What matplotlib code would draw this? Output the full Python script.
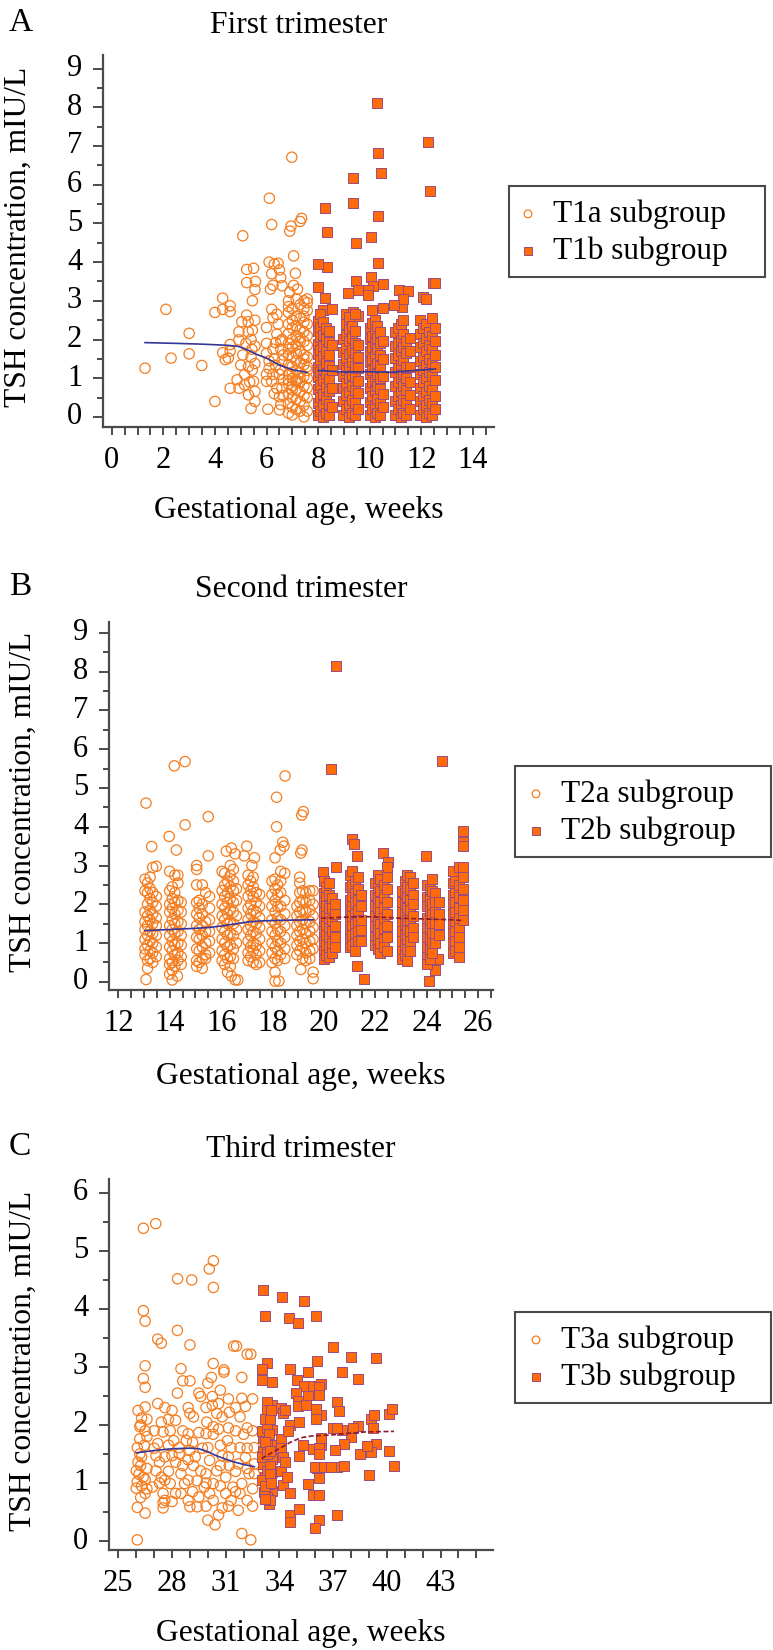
import matplotlib
matplotlib.use("Agg")
import matplotlib.pyplot as plt
from matplotlib.patches import Rectangle
from matplotlib.ticker import MultipleLocator, FixedLocator

plt.rcParams['font.family'] = ['Liberation Serif', 'DejaVu Serif']

# ---- data: (week, [TSH values]) ----
t1a = [
    (1.29, [1.26]), (2.10, [2.78]), (2.30, [1.52]), (3.00, [2.16, 1.63]), (3.49, [1.33]),
    (4.00, [0.40, 2.70]), (4.30, [3.07, 2.78, 1.66]), (4.40, [1.48]),
    (4.59, [2.87, 2.72, 1.87, 1.70, 0.74]), (4.52, [1.52]),
    (4.86, [0.96]), (4.93, [2.20, 1.99, 0.74]), (5.00, [1.34]), (5.04, [2.46]),
    (5.08, [4.68, 1.60]), (5.15, [0.83, 1.10]), (5.20, [1.90]), (5.23, [2.63, 3.81, 3.47]),
    (5.29, [2.46, 2.20]), (5.30, [0.57, 1.30]), (5.35, [0.90]), (5.40, [0.22, 2.00, 1.55]),
    (5.43, [1.75]), (5.45, [3.00, 2.24, 1.21]), (5.50, [3.84, 0.92]),
    (5.55, [3.29, 1.83, 1.38, 0.66, 0.40, 2.50]), (5.57, [3.50]),
    (6.00, [2.31, 1.90, 1.64, 0.92, 1.10]), (6.05, [0.20]), (6.10, [4.00, 1.45, 1.25]),
    (6.11, [5.65]), (6.15, [3.30]), (6.20, [4.97, 3.70, 2.78, 0.92]),
    (6.25, [3.40, 2.56, 1.75, 1.10]), (6.30, [1.50, 0.60, 3.95]), (6.35, [1.92, 1.33]),
    (6.40, [2.14, 0.74, 2.65]), (6.45, [3.97, 2.40]), (6.50, [3.80, 0.52, 0.18, 1.10]),
    (6.55, [1.96, 1.75, 1.23, 0.32, 3.60]), (6.60, [3.39, 1.45, 0.75, 2.00]),
    (6.65, [0.96, 1.60, 0.55]),
    (6.98, [6.71]), (6.95, [4.93]), (6.90, [4.80, 3.22]), (7.36, [5.13]), (7.30, [5.05]),
    (7.05, [4.16, 3.40]), (7.12, [3.71]), (7.20, [3.30]),
    (6.85, [3.00, 2.70, 2.40, 2.15, 1.90, 1.60, 1.35, 1.10, 0.85, 0.60, 0.35, 0.10, 2.85, 1.75, 0.95]),
    (7.00, [2.80, 2.50, 2.30, 2.00, 1.80, 1.55, 1.30, 1.00, 0.80, 0.50, 0.25, 0.05, 1.15, 0.70]),
    (7.15, [3.05, 2.60, 2.35, 2.10, 1.85, 1.45, 1.20, 0.95, 0.70, 0.45, 0.20, 1.65, 0.90]),
    (7.30, [2.90, 2.55, 2.25, 1.95, 1.70, 1.40, 1.15, 0.90, 0.65, 0.40, 0.15, 2.05, 1.00]),
    (7.45, [3.00, 2.80, 2.45, 2.20, 1.95, 1.60, 1.35, 1.05, 0.80, 0.55, 0.30, 0.00, 2.60, 1.50]),
    (7.58, [3.05, 2.75, 2.40, 2.10, 1.85, 1.55, 1.30, 1.00, 0.75, 0.50, 0.15, 2.95, 1.20]),
]
t1b = [
    (10.27, [8.10]), (12.25, [7.09]), (10.33, [6.81, 5.19, 3.97]), (10.45, [6.30]),
    (9.36, [6.17, 5.52]), (12.34, [5.84]), (8.27, [5.39, 3.07]), (8.36, [4.77, 3.87]),
    (9.47, [4.49, 3.52]), (10.05, [4.66, 3.61]), (7.98, [3.95, 3.35]), (10.14, [3.39]),
    (10.50, [3.44, 2.82]), (9.17, [3.21]), (9.53, [3.28, 2.60]), (9.95, [3.28, 3.15]),
    (8.18, [2.76]), (8.52, [2.80]), (11.24, [2.85]), (11.15, [3.28]), (11.50, [3.26]),
    (11.30, [3.05]), (10.96, [2.90]), (12.05, [3.10]), (12.20, [3.05]), (12.46, [3.47]),
    (12.53, [3.47]), (9.10, [2.65]), (9.35, [2.72]),
    (7.98, [0.05, 0.35, 0.72, 1.02, 1.28, 1.62, 1.88, 2.22, 2.48]),
    (8.09, [0.15, 0.52, 0.83, 1.15, 1.47, 1.73, 2.06, 2.33, 2.66]),
    (8.20, [0.00, 0.31, 0.60, 0.95, 1.24, 1.57, 1.84, 2.12, 2.44]),
    (8.31, [0.10, 0.46, 0.78, 1.11, 1.39, 1.71, 2.02, 2.30]),
    (8.42, [0.05, 0.34, 0.66, 0.98, 1.32, 1.60, 1.94, 2.21]),
    (8.52, [0.26, 0.74, 1.21, 1.85]),
    (8.98, [0.05, 0.41, 0.74, 1.06, 1.36, 1.69, 2.01]),
    (9.09, [0.20, 0.56, 0.88, 1.21, 1.52, 1.79, 2.12, 2.41]),
    (9.20, [0.00, 0.31, 0.64, 1.00, 1.29, 1.62, 1.95, 2.26, 2.58]),
    (9.31, [0.10, 0.45, 0.81, 1.09, 1.42, 1.74, 2.05, 2.36]),
    (9.42, [0.05, 0.36, 0.70, 1.02, 1.31, 1.66, 1.90, 2.21, 2.67]),
    (9.53, [0.20, 0.61, 0.94, 1.26, 1.55, 1.86]),
    (10.00, [0.05, 0.39, 0.76, 1.10, 1.41, 1.70, 2.02, 2.30]),
    (10.10, [0.20, 0.55, 0.90, 1.21, 1.50, 1.81, 2.10, 2.42, 2.75]),
    (10.20, [0.00, 0.30, 0.66, 0.95, 1.30, 1.61, 1.90, 2.19, 2.51]),
    (10.30, [0.10, 0.46, 0.80, 1.12, 1.40, 1.76, 2.05, 2.34]),
    (10.40, [0.05, 0.35, 0.71, 1.00, 1.31, 1.60, 1.91, 2.20]),
    (10.50, [0.25, 0.60, 1.05, 1.50, 1.96]),
    (10.98, [0.05, 0.40, 0.80, 1.15, 1.51, 1.84, 2.20]),
    (11.09, [0.20, 0.55, 0.90, 1.26, 1.60, 1.91, 2.30]),
    (11.20, [0.00, 0.30, 0.65, 1.01, 1.35, 1.70, 2.00, 2.40]),
    (11.31, [0.10, 0.45, 0.80, 1.10, 1.46, 1.80, 2.15, 2.50]),
    (11.42, [0.05, 0.35, 0.70, 1.00, 1.30, 1.65, 1.95]),
    (11.55, [0.20, 0.56, 0.90, 1.30, 1.70, 2.05]),
    (11.96, [0.05, 0.40, 0.75, 1.10, 1.45, 1.80, 2.15, 2.50]),
    (12.07, [0.20, 0.55, 0.90, 1.20, 1.55, 1.90, 2.30]),
    (12.18, [0.00, 0.30, 0.65, 1.00, 1.35, 1.70, 2.05, 2.40]),
    (12.29, [0.10, 0.45, 0.80, 1.15, 1.50, 1.85, 2.20]),
    (12.40, [0.05, 0.35, 0.70, 1.05, 1.40, 1.75, 2.10, 2.55]),
    (12.52, [0.20, 0.55, 0.95, 1.30, 1.60, 1.95, 2.30]),
]
t1a_fit_x = [1.29, 2.5, 3.5, 4.5, 4.93, 5.3, 5.6, 6.0, 6.5, 7.0, 7.56]
t1a_fit_y = [1.92, 1.90, 1.88, 1.85, 1.82, 1.72, 1.62, 1.52, 1.34, 1.22, 1.15]
t1b_fit_x = [8.0, 8.5, 9.1, 9.9, 10.5, 10.8, 11.5, 12.0, 12.55]
t1b_fit_y = [1.20, 1.18, 1.16, 1.17, 1.16, 1.15, 1.19, 1.21, 1.24]

t2a = [
    (13.08, [4.61, 0.06]), (13.30, [3.49]), (13.98, [3.75]), (14.26, [3.40]), (14.18, [5.57]),
    (14.60, [5.68, 4.05]), (15.50, [4.26, 3.25]), (18.16, [4.76, 4.00]), (18.49, [5.31]),
    (19.14, [4.30]), (19.20, [4.39]), (19.10, [3.32, 0.32]), (19.15, [3.40]),
    (18.40, [3.60]), (18.45, [3.50]), (18.30, [3.40]), (18.10, [3.20, 0.02]),
    (16.20, [3.37]), (16.40, [3.45, 0.15]), (16.55, [3.30, 0.05]), (16.65, [0.05]),
    (17.00, [3.50]), (16.90, [3.25]), (17.30, [3.20]), (17.20, [3.00]),
    (14.00, [0.20]), (14.10, [0.05]), (14.30, [0.15]), (18.25, [0.02]), (19.58, [0.08, 0.25]),
    (13.04, [2.65, 2.35, 1.80, 1.55, 1.35, 1.10, 0.85, 0.70]),
    (13.14, [2.55, 2.30, 2.00, 1.70, 1.45, 1.20, 0.95, 0.55, 0.35]),
    (13.24, [2.70, 2.40, 2.15, 1.85, 1.60, 1.30, 1.05, 0.80, 0.60]),
    (13.34, [2.95, 2.30, 2.05, 1.75, 1.50, 1.25, 1.00, 0.75, 0.50]),
    (13.48, [2.98, 2.20, 1.95, 1.65, 1.45, 1.20, 0.90, 0.65]),
    (14.00, [2.85, 2.35, 2.00, 1.80, 1.45, 1.20, 0.90, 0.60, 0.45]),
    (14.10, [2.45, 2.15, 1.90, 1.60, 1.35, 1.05, 0.80, 0.50, 0.30]),
    (14.20, [2.75, 2.30, 2.05, 1.75, 1.50, 1.25, 0.95, 0.70, 0.40]),
    (14.32, [2.75, 2.55, 2.10, 1.85, 1.55, 1.30, 1.00, 0.75, 0.55]),
    (14.45, [2.05, 1.80, 1.50, 1.20, 0.95, 0.65, 0.45]),
    (15.05, [3.00, 2.90, 2.50, 2.05, 1.75, 1.45, 1.15, 0.85, 0.55, 0.40]),
    (15.15, [2.10, 1.90, 1.65, 1.35, 1.10, 0.80, 0.50]),
    (15.27, [2.50, 2.00, 1.75, 1.45, 1.20, 0.90, 0.60, 0.35]),
    (15.40, [2.30, 1.55, 1.30, 1.00, 0.70, 0.60]),
    (15.55, [2.20, 1.90, 1.60, 1.30, 1.05, 0.75]),
    (16.04, [2.85, 2.35, 2.00, 1.70, 1.40, 1.10, 0.80, 0.55]),
    (16.14, [2.80, 2.50, 2.20, 1.90, 1.60, 1.30, 1.00, 0.70, 0.45]),
    (16.25, [2.60, 2.30, 2.05, 1.75, 1.50, 1.20, 0.90, 0.60, 0.25]),
    (16.36, [3.00, 2.75, 2.45, 2.15, 1.85, 1.55, 1.25, 0.95, 0.65, 0.40]),
    (16.48, [2.90, 2.60, 2.35, 2.05, 1.80, 1.50, 1.20, 0.85, 0.60]),
    (16.60, [2.40, 2.10, 1.70, 1.35, 1.00]),
    (17.05, [2.75, 2.50, 2.20, 1.90, 1.60, 1.35, 1.05, 0.75, 0.55]),
    (17.15, [2.60, 2.35, 2.00, 1.75, 1.45, 1.20, 0.90, 0.65]),
    (17.25, [2.70, 2.45, 2.20, 1.85, 1.55, 1.30, 1.00, 0.80, 0.50]),
    (17.37, [2.30, 2.05, 1.80, 1.50, 1.25, 0.95, 0.70, 0.45]),
    (17.50, [2.25, 1.95, 1.65, 1.40, 1.10, 0.80, 0.50]),
    (17.98, [2.60, 2.25, 1.95, 1.60, 1.30, 1.00, 0.75, 0.50]),
    (18.10, [2.65, 2.40, 2.10, 1.80, 1.50, 1.20, 0.90, 0.60, 0.25]),
    (18.20, [2.50, 2.25, 1.95, 1.65, 1.35, 1.05, 0.80, 0.55]),
    (18.32, [2.85, 2.60, 2.30, 1.95, 1.60, 1.30, 1.00, 0.70]),
    (18.48, [2.80, 2.10, 1.75, 1.45, 1.15, 0.85, 0.60]),
    (18.95, [1.95, 1.70, 1.45, 1.20, 0.95, 0.70]),
    (19.06, [2.70, 2.55, 2.30, 2.05, 1.80, 1.55, 1.30, 1.05, 0.80]),
    (19.17, [2.35, 2.10, 1.85, 1.60, 1.35, 1.10, 0.90, 0.60]),
    (19.30, [2.30, 2.05, 1.80, 1.50, 1.25, 1.00, 0.75, 0.55]),
    (19.45, [2.35, 2.10, 1.85, 1.55, 1.30, 1.05, 0.80, 0.60]),
    (19.58, [2.35, 2.00, 1.70, 1.40, 1.10, 0.85]),
]
t2b = [
    (20.47, [8.15, 2.97]), (24.58, [5.70]), (20.28, [5.48]), (21.08, [3.68]), (21.17, [3.56]),
    (21.28, [3.25, 0.41]), (22.29, [3.33]), (22.50, [3.10]), (22.45, [2.95]), (19.95, [2.84]),
    (23.97, [3.25]), (21.55, [0.07]), (24.09, [0.01]), (24.33, [0.31]), (24.45, [0.60]),
    (20.00, [2.60, 2.30, 2.05, 1.80, 1.55, 1.30, 1.05, 0.80, 0.60]),
    (20.10, [2.45, 2.20, 1.95, 1.70, 1.45, 1.20, 0.95, 0.70]),
    (20.20, [2.55, 2.25, 1.90, 1.65, 1.40, 1.15, 0.90, 0.65]),
    (20.30, [2.15, 1.90, 1.60, 1.30, 1.00, 0.75]),
    (20.42, [2.00, 1.75, 1.45, 1.15, 0.90]),
    (21.00, [2.75, 2.45, 2.10, 1.85, 1.60, 1.35, 1.10, 0.90]),
    (21.10, [2.85, 2.50, 2.20, 1.95, 1.70, 1.45, 1.20, 0.95]),
    (21.20, [2.60, 2.30, 2.05, 1.75, 1.50, 1.25, 1.00, 0.80]),
    (21.32, [2.70, 2.40, 2.10, 1.85, 1.55, 1.30, 1.05]),
    (21.45, [2.25, 1.95, 1.60, 1.35, 1.05]),
    (22.00, [2.55, 2.25, 1.95, 1.70, 1.45, 1.15, 0.95]),
    (22.10, [2.75, 2.45, 2.15, 1.90, 1.60, 1.35, 1.10, 0.85]),
    (22.20, [2.65, 2.35, 2.05, 1.80, 1.50, 1.25, 1.00, 0.75]),
    (22.32, [2.50, 2.20, 1.90, 1.65, 1.40, 1.10, 0.90]),
    (22.45, [2.70, 2.40, 2.05, 1.75, 1.45, 1.15, 0.80]),
    (23.05, [2.35, 2.05, 1.80, 1.55, 1.30, 1.05, 0.80, 0.60]),
    (23.15, [2.60, 2.30, 2.00, 1.75, 1.50, 1.20, 0.95, 0.70]),
    (23.25, [2.75, 2.45, 2.20, 1.90, 1.60, 1.35, 1.10, 0.85, 0.55]),
    (23.36, [2.70, 2.40, 2.10, 1.85, 1.60, 1.30, 1.05, 0.80]),
    (23.48, [2.55, 2.25, 2.00, 1.70, 1.40, 1.15]),
    (24.02, [2.50, 2.20, 1.95, 1.65, 1.40, 1.15, 0.90, 0.65, 0.45]),
    (24.12, [2.40, 2.10, 1.85, 1.60, 1.35, 1.10, 0.85, 0.60]),
    (24.22, [2.65, 2.35, 2.00, 1.75, 1.50, 1.25, 1.00, 0.75]),
    (24.34, [2.30, 2.05, 1.80, 1.50, 1.25, 1.00]),
    (24.46, [2.05, 1.75, 1.50, 1.20]),
    (25.02, [2.85, 2.55, 2.25, 2.00, 1.75, 1.50, 1.25, 1.00, 0.75]),
    (25.12, [2.60, 2.30, 2.05, 1.80, 1.55, 1.30, 1.05, 0.80]),
    (25.25, [2.95, 2.50, 2.20, 1.90, 1.65, 1.40, 1.15, 0.90, 0.65]),
    (25.42, [3.90, 3.60, 3.50, 2.95, 2.70, 2.40, 2.10, 1.85, 1.60]),
]
t2a_fit_x = [13.04, 14.0, 15.0, 15.5, 16.0, 16.5, 17.0, 17.5, 18.5, 19.6]
t2a_fit_y = [1.32, 1.35, 1.38, 1.40, 1.44, 1.49, 1.54, 1.57, 1.59, 1.60]
t2b_fit_x = [19.9, 20.5, 21.0, 21.7, 22.5, 23.0, 24.0, 25.0, 25.45]
t2b_fit_y = [1.64, 1.66, 1.67, 1.68, 1.66, 1.64, 1.62, 1.60, 1.58]

t3a = [
    (26.40, [5.39, 3.97]), (27.09, [5.47]), (28.31, [4.52]), (29.10, [4.50]), (30.08, [4.69]),
    (30.31, [4.83, 4.37]), (26.50, [3.79, 3.02, 2.65, 2.31, 1.90, 1.06, 0.82, 0.48]),
    (27.20, [3.48, 2.37, 1.68]), (27.40, [3.41, 2.05, 1.10]), (28.30, [3.63, 2.55]),
    (29.00, [3.38, 2.76, 1.56, 0.59, 2.20]), (31.60, [3.36]), (32.40, [3.22]),
    (26.06, [0.02, 0.58, 1.61, 1.02]), (26.40, [2.80, 1.10]), (26.10, [2.25, 1.36]),
    (26.30, [2.12, 1.45, 0.95]), (26.20, [1.97, 1.76, 1.50]), (26.00, [1.21, 0.91]),
    (26.15, [1.15]), (26.45, [1.65]), (26.25, [2.00, 1.30, 0.75]), (26.60, [1.80, 1.25, 0.90, 2.10]),
    (27.00, [1.90, 1.60]), (27.50, [1.88, 0.82, 0.66, 0.57]), (27.10, [1.47, 1.21]),
    (27.30, [1.36, 1.00]), (26.90, [0.93]), (27.60, [2.30, 1.45, 1.05, 0.70]),
    (27.80, [2.10, 1.65, 1.20]),
    (28.50, [2.97, 1.16, 0.82]), (28.60, [2.76, 1.90, 1.30]), (28.00, [2.25, 1.47, 0.68]),
    (28.20, [2.08, 1.36, 0.82]), (27.90, [1.90, 0.99]), (28.10, [1.73]), (28.40, [1.61, 1.50]),
    (28.80, [1.73]), (28.70, [0.99]), (28.90, [2.30, 1.85, 1.40, 1.05, 0.70]),
    (29.20, [2.14, 1.30]), (29.50, [1.87, 2.55, 0.76]), (29.60, [2.49, 1.21]),
    (29.40, [1.04, 0.59]), (29.80, [0.93]), (29.30, [1.45]), (29.70, [1.60]),
    (29.15, [1.70, 0.85]), (29.90, [2.30, 1.85, 1.00, 0.60]),
    (29.94, [2.05]), (30.30, [1.97, 1.84, 0.99, 0.70, 3.06]), (30.00, [1.61, 0.36, 2.72]),
    (30.10, [1.39, 0.82]), (30.50, [1.21, 2.20]), (29.90, [1.16]), (30.40, [0.28]),
    (30.60, [0.45, 2.37, 1.93]), (30.20, [2.82]), (30.25, [2.49, 2.34]),
    (30.70, [1.65, 1.30, 0.95, 2.60]),
    (30.90, [2.95, 2.91]), (30.80, [2.14, 1.47, 0.57]), (31.20, [2.22, 1.30]),
    (31.10, [1.73]), (31.30, [1.61, 0.70]), (31.00, [1.10, 0.82]), (31.40, [0.93]),
    (31.15, [2.45, 1.95, 1.45, 0.60]), (31.55, [2.30, 1.90, 1.20, 0.85]),
    (31.45, [3.36]), (32.20, [3.22, 0.70, 1.95, 1.60, 1.25]), (31.90, [2.82, 2.46, 0.99, 0.13]),
    (32.10, [2.32, 1.44]), (31.80, [2.14, 1.61, 0.82]), (32.00, [1.84]), (31.70, [1.33, 0.53]),
    (32.30, [1.16]), (32.40, [0.02]), (32.60, [1.61, 1.16, 1.33]), (32.50, [2.45, 1.90, 0.90, 0.60]),
]
t3b = [
    (33.10, [4.32, 1.78, 1.56, 1.33]), (34.13, [4.21]), (35.39, [4.14]), (33.20, [3.88, 1.10]),
    (34.52, [3.84]), (35.02, [3.76]), (36.04, [3.88]), (37.00, [3.35, 1.94]), (38.00, [3.18, 1.79]),
    (39.40, [3.16, 1.68]), (33.29, [3.06]), (33.00, [2.97, 2.77, 1.90, 1.45]),
    (33.60, [2.74, 2.34, 1.92, 1.66, 1.42, 1.19, 0.87]), (34.59, [2.97]), (35.60, [2.91, 2.51, 0.98]),
    (36.10, [3.11, 1.25]), (37.50, [2.91, 1.92]), (38.40, [2.80, 1.98]),
    (35.00, [2.77]), (35.40, [2.68]), (35.90, [2.68, 1.58, 0.79]), (36.30, [2.71, 2.17, 1.66, 1.78]),
    (36.20, [2.66, 2.51, 0.79, 0.36, 1.61, 1.50, 1.08]), (34.95, [2.55]), (35.05, [2.41, 2.32]),
    (35.50, [2.34]), (33.30, [2.40, 2.25, 1.95, 1.66, 1.50, 1.21, 0.76]),
    (34.10, [2.29, 1.76, 1.61, 1.21]), (34.20, [2.20, 1.44, 0.96]), (34.30, [2.25, 1.36]),
    (37.20, [2.40, 1.94, 0.45, 1.28]), (37.30, [2.24]), (36.05, [2.28, 2.10]),
    (39.10, [2.11, 1.53]), (39.30, [2.17]), (40.10, [2.19, 1.56]), (40.30, [2.27]),
    (33.40, [0.99, 0.64, 1.85]), (33.50, [0.70, 1.30]), (33.05, [1.05]), (33.15, [0.85]),
    (33.20, [2.10, 1.70, 0.95, 0.72]), (33.45, [2.10, 1.55, 1.15]), (33.55, [2.25, 1.00]),
    (34.40, [1.10]), (34.60, [0.82, 0.45, 0.33, 2.00]), (34.50, [1.90]), (35.10, [2.05, 1.46, 0.56]),
    (35.30, [1.66]), (36.00, [0.22, 1.28]), (36.50, [1.28]), (36.90, [1.28]), (37.60, [1.30, 1.68]),
    (37.10, [1.57]), (38.10, [1.95]), (38.50, [1.50]), (38.90, [1.63]), (39.00, [1.14]),
    (39.20, [1.94]), (40.40, [1.30]),
]
t3a_fit_x = [26.0, 27.0, 28.0, 29.0, 29.5, 30.0, 30.4, 31.0, 31.5, 32.0, 32.6]
t3a_fit_y = [1.52, 1.56, 1.59, 1.60, 1.59, 1.54, 1.48, 1.41, 1.36, 1.32, 1.28]
t3b_fit_x = [33.0, 33.5, 34.1, 34.6, 35.2, 35.8, 37.0, 38.0, 38.8, 40.4]
t3b_fit_y = [1.42, 1.51, 1.61, 1.70, 1.78, 1.81, 1.83, 1.86, 1.88, 1.89]

W, H = 773, 1650
CIRC = '#f47d20'
SQ_FACE = '#ff6a0a'
SQ_EDGE = '#9a4a80'
BLUE = '#35359a'
DRED = '#8b1a2a'
AXC = '#4a4a4a'
FS = 22.7

fig = plt.figure(figsize=(W / 100, H / 100), dpi=100)


def unpack(cols):
    xs, ys = [], []
    for x, vals in cols:
        for v in vals:
            xs.append(x)
            ys.append(v)
    return xs, ys


def panel(box, xlim, ylim, xticks, xminor, circ, sq, fa, fb, b_dashed, names,
          letter, title_y, xlabel_y, ylab_x, legbox, leg_marker_x):
    left, top, right, bottom = box
    ax = fig.add_axes([left / W, 1 - bottom / H, (right - left) / W, (bottom - top) / H])
    cx, cy = unpack(circ)
    sx, sy = unpack(sq)
    h1 = ax.scatter(cx, cy, s=55, marker='o', facecolors='none', edgecolors=CIRC,
                    linewidths=0.9, zorder=2)
    h2 = ax.scatter(sx, sy, s=55, marker='s', facecolors=SQ_FACE, edgecolors=SQ_EDGE,
                    linewidths=0.7, zorder=3)
    ax.plot(fa[0], fa[1], color=BLUE, lw=1.2, zorder=4)
    if b_dashed:
        ax.plot(fb[0], fb[1], color=DRED, lw=1.2, ls=(0, (3, 1.5)), zorder=4)
    else:
        ax.plot(fb[0], fb[1], color=BLUE, lw=1.2, zorder=4)

    ax.set_xlim(*xlim)
    ax.set_ylim(*ylim)
    for s in ['top', 'right']:
        ax.spines[s].set_visible(False)
    for s in ['left', 'bottom']:
        ax.spines[s].set_linewidth(1.6)
        ax.spines[s].set_color(AXC)
    ax.xaxis.set_major_locator(FixedLocator(xticks))
    ax.xaxis.set_minor_locator(MultipleLocator(xminor))
    ax.yaxis.set_major_locator(MultipleLocator(1))
    ax.yaxis.set_minor_locator(MultipleLocator(0.5))
    ax.tick_params(axis='x', which='both', direction='out', length=6, width=1.4,
                   color=AXC, labelsize=22, pad=8)
    ax.tick_params(axis='y', which='major', direction='out', length=7, width=1.4,
                   color=AXC, labelsize=22, pad=8)
    ax.tick_params(axis='y', which='minor', direction='out', length=4, width=1.4, color=AXC)
    plt.setp(ax.get_yticklabels(), va='center')

    cxm = (left + right) / 2
    fig.text(9 / W, 1 - (title_y - 2) / H, letter, fontsize=24, ha='left', va='baseline')
    fig.text(cxm / W, 1 - title_y / H, names[2], fontsize=FS, ha='center', va='baseline')
    fig.text(cxm / W, 1 - xlabel_y / H, 'Gestational age, weeks', fontsize=FS,
             ha='center', va='baseline')
    fig.text(ylab_x / W, 1 - ((top + bottom) / 2 - 4) / H, 'TSH concentration, mIU/L',
             fontsize=FS, rotation=90, ha='center', va='center')

    bl, bt, br, bb = legbox
    fs_leg = 22.5
    hl = 1.0
    x0 = leg_marker_x - hl * fs_leg / 72 * 100 / 2
    ax.legend([h1, h2], names[:2], loc='center left',
              bbox_to_anchor=(x0 / W, 1 - ((bt + bb) / 2 + 1.5) / H),
              bbox_transform=fig.transFigure, frameon=False, fontsize=fs_leg,
              markerscale=0.75, handlelength=hl, handletextpad=0.3,
              borderpad=0, labelspacing=0.25, borderaxespad=0)
    fig.add_artist(Rectangle((bl / W, 1 - bb / H), (br - bl) / W, (bb - bt) / H,
                             transform=fig.transFigure, fill=False, ec=AXC, lw=1.5))
    return ax


panel((103, 55, 494, 427), (-0.34, 14.82), (-0.26, 9.35), list(range(0, 15, 2)), 0.5,
      t1a, t1b, (t1a_fit_x, t1a_fit_y), (t1b_fit_x, t1b_fit_y), False,
      ['T1a subgroup', 'T1b subgroup', 'First trimester'], 'A', 33, 518, 18,
      (509, 186, 765, 277), 528)

panel((109, 622, 493, 990), (11.64, 26.58), (-0.21, 9.28), list(range(12, 27, 2)), 0.5,
      t2a, t2b, (t2a_fit_x, t2a_fit_y), (t2b_fit_x, t2b_fit_y), True,
      ['T2a subgroup', 'T2b subgroup', 'Second trimester'], 'B', 597, 1084, 23,
      (515, 766, 771, 857), 536)

panel((109, 1179, 493, 1550), (24.48, 45.93), (-0.155, 6.24), list(range(25, 44, 3)), 1,
      t3a, t3b, (t3a_fit_x, t3a_fit_y), (t3b_fit_x, t3b_fit_y), True,
      ['T3a subgroup', 'T3b subgroup', 'Third trimester'], 'C', 1157, 1641, 23,
      (515, 1312, 771, 1403), 536)

fig.savefig('out.png', dpi=100)
